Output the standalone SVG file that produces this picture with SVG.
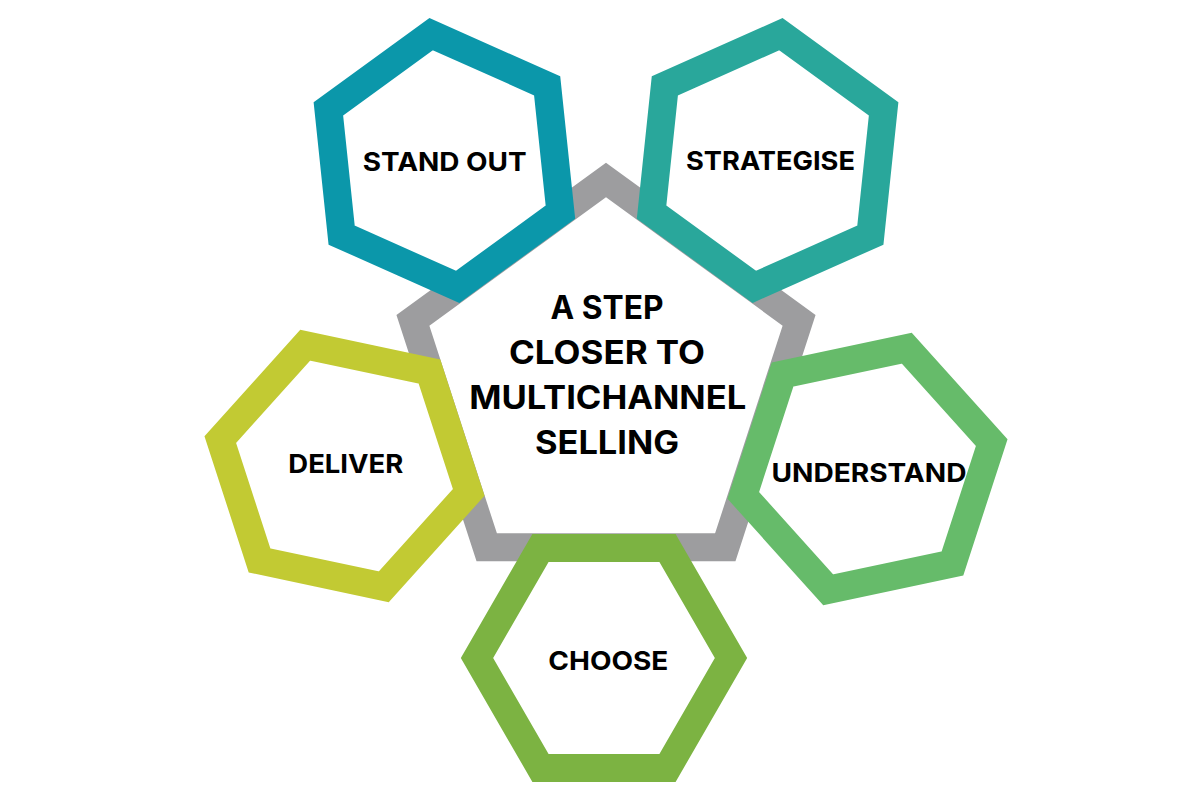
<svg xmlns="http://www.w3.org/2000/svg" width="1200" height="800" viewBox="0 0 1200 800">
<style>
.hex{fill:#ffffff;stroke-width:28;stroke-linejoin:miter}
.lbl{font-family:Inter,"Liberation Sans",Arial,sans-serif;font-weight:700;font-size:26px;fill:#000000;text-anchor:middle}
.title{font-family:Inter,"Liberation Sans",Arial,sans-serif;font-weight:700;font-size:32px;fill:#000000;text-anchor:middle}
</style>
<defs>
<polygon id="hx" points="127,0 63.5,110 -63.5,110 -127,0 -63.5,-110 63.5,-110"/>
</defs>
<rect width="1200" height="800" fill="#ffffff"/>
<g id="center">
<polygon points="606,180 799.1,320.3 725.3,547.2 486.7,547.2 412.9,320.3" fill="#ffffff" stroke="#9d9d9f" stroke-width="28" stroke-linejoin="miter"/>
</g>
<g id="standout">
<use href="#hx" class="hex" stroke="#0b97aa" transform="translate(444.4,160.5) rotate(24)"/>
<text class="lbl" x="444.7" y="170.7" textLength="164" lengthAdjust="spacingAndGlyphs">STAND OUT</text>
</g>
<g id="strategise">
<use href="#hx" class="hex" stroke="#29a79b" transform="translate(767.6,160.5) rotate(-24)"/>
<text class="lbl" x="770.5" y="170" textLength="169" lengthAdjust="spacingAndGlyphs">STRATEGISE</text>
</g>
<g id="deliver">
<use href="#hx" class="hex" stroke="#c2ca33" transform="translate(344.5,466) rotate(12)"/>
<text class="lbl" x="345.8" y="473.3" textLength="115" lengthAdjust="spacingAndGlyphs">DELIVER</text>
</g>
<g id="understand">
<use href="#hx" class="hex" stroke="#66bb6a" transform="translate(867.5,469) rotate(-12)"/>
<text class="lbl" x="869" y="481.7" textLength="195" lengthAdjust="spacingAndGlyphs">UNDERSTAND</text>
</g>
<g id="choose">
<use href="#hx" class="hex" stroke="#7cb342" transform="translate(604,658)"/>
<text class="lbl" x="608.3" y="670" textLength="120" lengthAdjust="spacingAndGlyphs">CHOOSE</text>
</g>
<g id="title">
<text class="title" x="607" y="319" textLength="113" lengthAdjust="spacingAndGlyphs">A STEP</text>
<text class="title" x="607" y="364" textLength="196" lengthAdjust="spacingAndGlyphs">CLOSER TO</text>
<text class="title" x="607.7" y="409" textLength="277" lengthAdjust="spacingAndGlyphs">MULTICHANNEL</text>
<text class="title" x="607" y="454" textLength="144" lengthAdjust="spacingAndGlyphs">SELLING</text>
</g>
</svg>
